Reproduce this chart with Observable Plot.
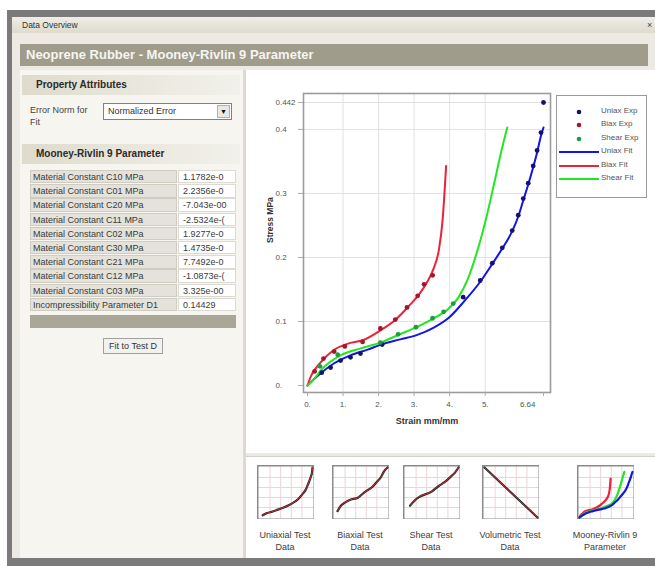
<!DOCTYPE html>
<html><head><meta charset="utf-8">
<script src="https://cdn.jsdelivr.net/npm/d3@7"></script>
<script src="https://cdn.jsdelivr.net/npm/@observablehq/plot@0.6"></script>
<style>
body{margin:0;width:655px;height:566px;overflow:hidden;background:#fff;font-family:"Liberation Sans",Arial,sans-serif;position:relative}
.a{position:absolute;box-sizing:border-box}
.band{left:22px;width:218px;height:20px;background:linear-gradient(90deg,#dedbcd,#ebe9df 60%,#f1f0ea);font-weight:bold;font-size:10px;color:#2a2a2a;line-height:20px;padding-left:14px}
.row{left:30px;width:206px;height:14.2px;font-size:9px;line-height:13px;color:#3a3a3a;white-space:nowrap;overflow:hidden}
.lab{position:absolute;left:0;top:0;width:147px;height:13.4px;background:#e4e2da;border:1px solid #cfccc2;padding-left:2px;box-sizing:border-box}
.val{position:absolute;left:148px;top:0;width:58px;height:13.4px;background:#fff;border:1px solid #dcdad2;padding-left:4px;box-sizing:border-box;overflow:hidden}
.tl{width:90px;text-align:center;font-size:9px;line-height:12px;color:#3c3c3c}
.leg{position:absolute;left:44px;font-size:8px;color:#555;line-height:10px}
</style></head><body>
<div class="a" style="left:7px;top:10px;width:648px;height:556px;background:#7b7b7b"></div>
<div class="a" style="left:12px;top:17px;width:643px;height:16px;background:linear-gradient(#efede6,#dddace);font-size:8.5px;color:#333;line-height:16px;padding-left:10px">Data Overview</div>
<div class="a" style="left:647px;top:17px;font-size:9px;line-height:16px;color:#444">×</div>
<div class="a" style="left:12px;top:33px;width:643px;height:525px;background:#eceae3"></div>
<div class="a" style="left:20px;top:44px;width:628px;height:22px;background:#a09c8c;color:#f6f5f0;font-weight:bold;font-size:13px;line-height:22px;padding-left:6px">Neoprene Rubber - Mooney-Rivlin 9 Parameter</div>
<div class="a" style="left:20px;top:70px;width:223px;height:488px;background:#f6f5f0"></div>
<div class="a band" style="top:75px">Property Attributes</div>
<div class="a" style="left:30px;top:104px;width:66px;font-size:9px;line-height:12px;color:#444">Error Norm for Fit</div>
<div class="a" style="left:103px;top:103px;width:129px;height:17px;border:1px solid #808080;background:#fff;font-size:9px;line-height:15px;padding-left:4px;color:#333">Normalized Error<div class="a" style="right:1px;top:1px;width:13px;height:13px;background:#e9e8e2;border:1px solid #b0b0b0;font-size:7px;line-height:12px;text-align:center;color:#111">▼</div></div>
<div class="a band" style="top:144px">Mooney-Rivlin 9 Parameter</div>
<div id="table"></div>
<div class="a" style="left:30px;top:315px;width:206px;height:13px;background:#aaa799"></div>
<div class="a" style="left:103px;top:338px;width:60px;height:16px;border:1px solid #a0a0a0;background:#f2f1ec;font-size:9px;line-height:14px;text-align:center;color:#333">Fit to Test D</div>
<div class="a" style="left:243px;top:70px;width:3px;height:488px;background:#dcdad2"></div>
<div class="a" style="left:246px;top:70px;width:409px;height:383px;background:#fff"></div>
<div class="a" style="left:246px;top:456px;width:409px;height:102px;background:#fff;border-top:1px solid #d0d0d0"></div>
<div id="chart" class="a" style="left:245px;top:70px"></div>
<div id="legend" class="a" style="left:556px;top:95px;width:91px;height:103px;border:1px solid #9a9a9a;background:#fff"></div>
<div id="thumbs"></div>
<script>
// ---- table data ----
const paramNames = ["Material Constant C10 MPa","Material Constant C01 MPa","Material Constant C20 MPa","Material Constant C11 MPa","Material Constant C02 MPa","Material Constant C30 MPa","Material Constant C21 MPa","Material Constant C12 MPa","Material Constant C03 MPa","Incompressibility Parameter D1"];
const paramValues = ["1.1782e-0","2.2356e-0","-7.043e-00","-2.5324e-(","1.9277e-0","1.4735e-0","7.7492e-0","-1.0873e-(","3.325e-00","0.14429"];

// ---- main chart data (strain mm/mm, stress MPa) ----
const uniaxExpStrain = [0.4,0.65,0.93,1.21,1.49,2.1,4.38,4.86,5.2,5.48,5.76,5.93,6.07,6.21,6.35,6.46,6.57,6.64];
const uniaxExpStress = [0.02,0.028,0.039,0.044,0.05,0.064,0.138,0.164,0.191,0.215,0.242,0.266,0.292,0.316,0.343,0.367,0.395,0.442];
const biaxExpStrain = [0.2,0.45,0.75,1.05,1.55,2.05,2.47,2.8,3.1,3.28,3.52];
const biaxExpStress = [0.022,0.042,0.053,0.061,0.068,0.089,0.103,0.122,0.140,0.158,0.172];
const shearExpStrain = [0.35,0.85,2.05,2.55,3.05,3.52,3.83,4.1];
const shearExpStress = [0.030,0.048,0.067,0.080,0.091,0.105,0.115,0.128];
const uniaxFitStrain = [0,0.15,0.37,0.73,1.21,1.69,2.13,2.61,3.09,3.54,4.0,4.4,4.86,5.2,5.48,5.76,5.93,6.07,6.21,6.35,6.46,6.57,6.64];
const uniaxFitStress = [0,0.008,0.019,0.034,0.047,0.056,0.065,0.072,0.079,0.09,0.107,0.131,0.162,0.19,0.214,0.241,0.264,0.289,0.314,0.341,0.364,0.39,0.403];
const biaxFitStrain = [0,0.08,0.37,0.73,1.12,1.57,2.05,2.5,2.85,3.15,3.35,3.55,3.7,3.8,3.9];
const biaxFitStress = [0,0.0125,0.036,0.055,0.065,0.071,0.086,0.104,0.124,0.143,0.16,0.183,0.213,0.258,0.343];
const shearFitStrain = [0,0.1,0.45,0.93,1.5,2.05,2.6,3.1,3.55,3.95,4.25,4.5,4.75,5.0,5.25,5.45,5.62];
const shearFitStress = [0,0.005,0.028,0.047,0.058,0.067,0.08,0.092,0.105,0.119,0.138,0.165,0.205,0.255,0.315,0.365,0.403];
const volumetricX = [0,0.2,0.4,0.6,0.8,1];
const volumetricY = [1,0.8,0.6,0.4,0.2,0];

const xTicks = [0,1,2,3,4,5];
const xTickLabels = ["0.","1.","2.","3.","4.","5."];
const xEndTick = [6.64];
const xEndLabel = "6.64";
const yTicks = [0,0.1,0.2,0.3,0.4,0.442];
const yTickLabels = ["0.","0.1","0.2","0.3","0.4","0.442"];
const seriesNames = ["Uniax Exp","Biax Exp","Shear Exp","Uniax Fit","Biax Fit","Shear Fit"];
const thumbLabels = [["Uniaxial Test","Data"],["Biaxial Test","Data"],["Shear Test","Data"],["Volumetric Test","Data"],["Mooney-Rivlin 9","Parameter"]];

const C = {uf:"#1414e6", bf:"#ec2238", sf:"#22e622", ue:"#121270", be:"#a3162c", se:"#1c9e3c"};
const zip = (xs, ys) => xs.map((x,i)=>({x, y: ys[i]}));
const uniaxExp = zip(uniaxExpStrain, uniaxExpStress), biaxExp = zip(biaxExpStrain, biaxExpStress), shearExp = zip(shearExpStrain, shearExpStress);
const uniaxFit = zip(uniaxFitStrain, uniaxFitStress), biaxFit = zip(biaxFitStrain, biaxFitStress), shearFit = zip(shearFitStrain, shearFitStress);
const volData = zip(volumetricX, volumetricY);

// table
const tbl = document.getElementById("table");
paramNames.forEach((n,i)=>{
  const r = document.createElement("div");
  r.className = "a row"; r.style.top = (170 + i*14.2) + "px";
  r.innerHTML = `<div class="lab">${n}</div><div class="val">${paramValues[i]}</div>`;
  tbl.appendChild(r);
});

const font = "'Liberation Sans', Arial, sans-serif";
const chart = Plot.plot({
  width: 410, height: 380,
  marginLeft: 58, marginRight: 105, marginTop: 23, marginBottom: 58,
  insetLeft: 4, insetRight: 7, insetTop: 9, insetBottom: 7,
  x: {domain: [0, 6.64]},
  y: {domain: [0, 0.442]},
  style: {fontFamily: font, fontSize: "8px", color: "#555", background: "transparent", overflow: "visible"},
  marks: [
    Plot.gridX(xTicks.slice(1), {stroke: "#e2e2e2", strokeOpacity: 1}),
    Plot.gridY(yTicks.slice(1), {stroke: "#e2e2e2", strokeOpacity: 1}),
    Plot.frame({stroke: "#9c9c9c", strokeWidth: 1.6}),
    Plot.axisX(xTicks, {tickFormat: (d,i)=>xTickLabels[i], tickSize: 4, tickPadding: 5, stroke: "#aaa", label: null}),
    Plot.axisX(xEndTick, {tickFormat: ()=>"", tickSize: 4, stroke: "#aaa", label: null}),
    Plot.axisX(xEndTick, {tickFormat: ()=>xEndLabel, tickSize: 0, tickPadding: 9, textAnchor: "end", dx: -8, label: null}),
    Plot.axisY(yTicks, {tickFormat: ()=>"", tickSize: 5, stroke: "#aaa", label: null}),
    Plot.axisY(yTicks, {tickFormat: (d,i)=>yTickLabels[i], tickSize: 0, tickPadding: 3, textAnchor: "start", dx: -25, label: null}),
    Plot.text(["Strain mm/mm"], {frameAnchor: "bottom", dy: 31, fontWeight: "bold", fontSize: 9, fill: "#333"}),
    Plot.text(["Stress MPa"], {frameAnchor: "left", dx: -33, rotate: -90, fontWeight: "bold", fontSize: 8.5, fill: "#333"}),
    Plot.line(uniaxFit, {x: "x", y: "y", stroke: C.uf, strokeWidth: 2, curve: "monotone-x"}),
    Plot.line(biaxFit, {x: "x", y: "y", stroke: C.bf, strokeWidth: 2, curve: "monotone-x"}),
    Plot.line(shearFit, {x: "x", y: "y", stroke: C.sf, strokeWidth: 2, curve: "monotone-x"}),
    Plot.dot(uniaxExp, {x: "x", y: "y", r: 2.4, fill: C.ue}),
    Plot.dot(biaxExp, {x: "x", y: "y", r: 2.4, fill: C.be}),
    Plot.dot(shearExp, {x: "x", y: "y", r: 2.4, fill: C.se})
  ]
});
document.getElementById("chart").appendChild(chart);

// legend
const leg = document.getElementById("legend");
const legY = [16,29,43,56,70,83];
const legCol = [C.ue, C.be, C.se, C.uf, C.bf, C.sf];
let svg = `<svg width="91" height="103" style="position:absolute;left:0;top:0">`;
seriesNames.forEach((s,i)=>{
  if (i < 3) svg += `<circle cx="22" cy="${legY[i]}" r="2.3" fill="${legCol[i]}"/>`;
  else svg += `<line x1="2" x2="42" y1="${legY[i]}" y2="${legY[i]}" stroke="${legCol[i]}" stroke-width="2"/>`;
});
svg += `</svg>`;
leg.innerHTML = svg + seriesNames.map((s,i)=>`<div class="leg" style="top:${legY[i]-6}px">${s}</div>`).join("");

// thumbnails
const thumbs = document.getElementById("thumbs");
const thumbLeft = [257,332,403,482,577];
function thumb(xMax, yMax, marks) {
  const gx = d3.range(1,5).map(i=>i*xMax/5), gy = d3.range(1,5).map(i=>i*yMax/5);
  return Plot.plot({
    width: 57, height: 54, margin: 0, inset: 2,
    x: {domain: [0, xMax], axis: null}, y: {domain: [0, yMax], axis: null},
    style: {background: "#fff"},
    marks: [
      Plot.gridX(gx, {stroke: "#ead6d6", strokeOpacity: 1}),
      Plot.gridY(gy, {stroke: "#ead6d6", strokeOpacity: 1}),
      Plot.frame({stroke: "#8a8a8a", strokeWidth: 2}),
      ...marks
    ]
  });
}
const testMarks = d => [
  Plot.line(d, {x: "x", y: "y", stroke: "#222", strokeWidth: 2.2, curve: "monotone-x"}),
  Plot.line(d, {x: "x", y: "y", stroke: "#e03040", strokeWidth: 0.9, curve: "monotone-x"})
];
const thumbPlots = [
  thumb(6.64, 0.442, testMarks(uniaxExp)),
  thumb(3.52, 0.172, testMarks(biaxExp)),
  thumb(4.1, 0.128, testMarks(shearExp)),
  thumb(1, 1, testMarks(volData)),
  thumb(6.64, 0.442, [
    Plot.line(biaxFit, {x: "x", y: "y", stroke: C.bf, strokeWidth: 2.2, curve: "monotone-x"}),
    Plot.line(shearFit, {x: "x", y: "y", stroke: C.sf, strokeWidth: 2.2, curve: "monotone-x"}),
    Plot.line(uniaxFit, {x: "x", y: "y", stroke: C.uf, strokeWidth: 2.2, curve: "monotone-x"})
  ])
];
thumbPlots.forEach((p,i)=>{
  const d = document.createElement("div");
  d.className = "a"; d.style.left = thumbLeft[i] + "px"; d.style.top = "465px";
  d.appendChild(p); thumbs.appendChild(d);
  const l = document.createElement("div");
  l.className = "a tl"; l.style.left = (thumbLeft[i] + 28 - 45) + "px"; l.style.top = "529px";
  l.innerHTML = thumbLabels[i].join("<br>");
  thumbs.appendChild(l);
});
</script>
</body></html>
